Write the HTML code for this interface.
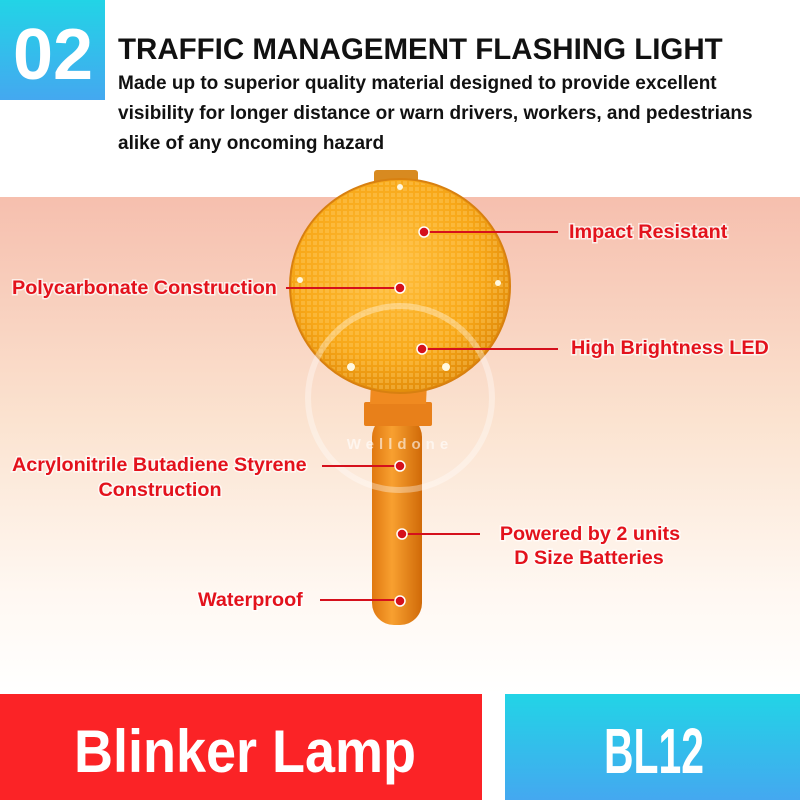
<!DOCTYPE html>
<html><head><meta charset="utf-8"><style>
html,body{margin:0;padding:0;width:800px;height:800px;overflow:hidden;background:#fff;font-family:"Liberation Sans",sans-serif}
svg text{font-family:"Liberation Sans",sans-serif;font-weight:bold}
.l{fill:#e3121c;font-size:19.8px;paint-order:stroke;stroke:#fff;stroke-width:3px;stroke-opacity:.7}
</style></head><body>
<svg width="800" height="800" viewBox="0 0 800 800" xmlns="http://www.w3.org/2000/svg">
<defs>
<linearGradient id="bg" x1="0" y1="0" x2="0" y2="1">
<stop offset="0" stop-color="#f6bfae"/><stop offset="0.45" stop-color="#fbe3d0"/><stop offset="0.8" stop-color="#fff8f2"/><stop offset="1" stop-color="#ffffff"/>
</linearGradient>
<linearGradient id="cy" x1="0" y1="0" x2="0" y2="1"><stop offset="0" stop-color="#22d4e6"/><stop offset="1" stop-color="#44a8f0"/></linearGradient>
<radialGradient id="disc" cx="0.45" cy="0.42" r="0.6"><stop offset="0" stop-color="#ffc040"/><stop offset="0.7" stop-color="#f8a818"/><stop offset="1" stop-color="#e08a0a"/></radialGradient>
<linearGradient id="hd" x1="0" y1="0" x2="1" y2="0"><stop offset="0" stop-color="#e07810"/><stop offset="0.4" stop-color="#f8a030"/><stop offset="1" stop-color="#d06a08"/></linearGradient>
<pattern id="grid" width="6" height="6" patternUnits="userSpaceOnUse"><rect x="1" y="1" width="4" height="4" fill="#ffd070" opacity=".35"/></pattern>
</defs>
<rect x="0" y="197" width="800" height="497" fill="url(#bg)"/>
<rect x="0" y="0" width="105" height="100" fill="url(#cy)"/>
<text x="53" y="79" fill="#fff" font-size="72" text-anchor="middle">02</text>
<text x="118" y="59" fill="#111" font-size="29.5">TRAFFIC MANAGEMENT FLASHING LIGHT</text>
<text x="118" y="89" fill="#111" font-size="19">Made up to superior quality material designed to provide excellent</text>
<text x="118" y="119" fill="#111" font-size="19">visibility for longer distance or warn drivers, workers, and pedestrians</text>
<text x="118" y="149" fill="#111" font-size="19">alike of any oncoming hazard</text>
<rect x="374" y="170" width="44" height="16" rx="3" fill="#d88a20"/>
<rect x="372" y="415" width="50" height="210" rx="22" fill="url(#hd)"/>
<rect x="364" y="402" width="68" height="24" rx="2" fill="#e8801a"/>
<path d="M372 360 L428 360 L426 404 L370 404 Z" fill="#f08a20"/>
<ellipse cx="400" cy="286" rx="110" ry="107" fill="url(#disc)" stroke="#d88010" stroke-width="2"/>
<ellipse cx="400" cy="286" rx="108" ry="105" fill="url(#grid)"/>
<circle cx="351" cy="367" r="4" fill="#fff8e0"/><circle cx="446" cy="367" r="4" fill="#fff8e0"/>
<circle cx="300" cy="280" r="3" fill="#fff8e0"/><circle cx="498" cy="283" r="3" fill="#fff8e0"/>
<circle cx="400" cy="187" r="3" fill="#fff8e0"/>
<circle cx="400" cy="398" r="92" fill="none" stroke="#fff" stroke-opacity=".35" stroke-width="6"/>
<text x="400" y="449" fill="#fff" fill-opacity=".6" font-size="15" text-anchor="middle" letter-spacing="5" font-weight="normal">Welldone</text>
<g stroke="#d5101c" stroke-width="2">
<line x1="424" y1="232" x2="558" y2="232"/>
<line x1="286" y1="288" x2="400" y2="288"/>
<line x1="422" y1="349" x2="558" y2="349"/>
<line x1="322" y1="466" x2="400" y2="466"/>
<line x1="400" y1="534" x2="480" y2="534"/>
<line x1="320" y1="600" x2="400" y2="600"/>
</g>
<g fill="#d5101c" stroke="#fff" stroke-width="1.5">
<circle cx="424" cy="232" r="5"/><circle cx="400" cy="288" r="5"/><circle cx="422" cy="349" r="5"/>
<circle cx="400" cy="466" r="5"/><circle cx="402" cy="534" r="5"/><circle cx="400" cy="601" r="5"/>
</g>
<text class="l" x="569" y="238">Impact Resistant</text>
<text class="l" x="12" y="294">Polycarbonate Construction</text>
<text class="l" x="571" y="354">High Brightness LED</text>
<text class="l" x="12" y="471">Acrylonitrile Butadiene Styrene</text>
<text class="l" x="160" y="496" text-anchor="middle">Construction</text>
<text class="l" x="590" y="540" text-anchor="middle">Powered by 2 units</text>
<text class="l" x="589" y="564" text-anchor="middle">D Size Batteries</text>
<text class="l" x="198" y="606">Waterproof</text>
<rect x="0" y="694" width="482" height="106" fill="#fb2326"/>
<rect x="505" y="694" width="295" height="106" fill="url(#cy)"/>
<text x="0" y="0" fill="#fff" font-size="60" transform="translate(245 772) scale(0.9 1)" text-anchor="middle">Blinker Lamp</text>
<text x="604" y="773" fill="#fff" font-size="64" textLength="100" lengthAdjust="spacingAndGlyphs">BL12</text>
</svg>
</body></html>
